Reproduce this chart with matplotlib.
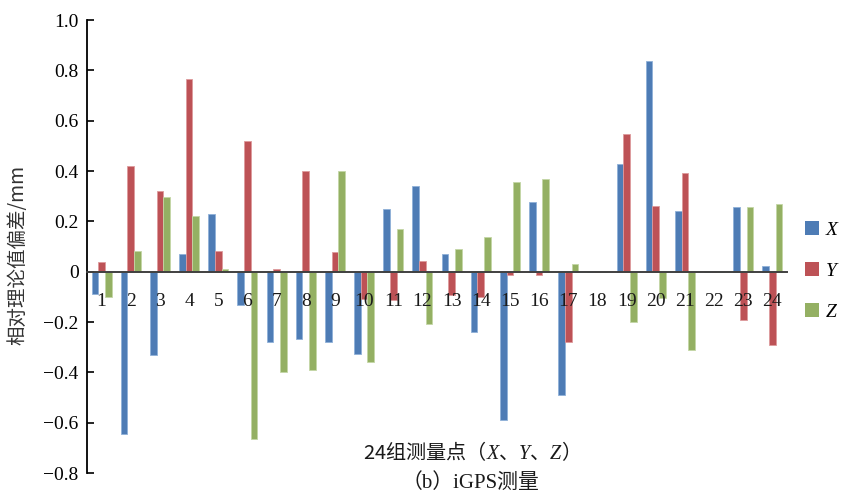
import matplotlib
matplotlib.use("Agg")
import matplotlib.pyplot as plt
import numpy as np
from matplotlib.patches import Patch

categories = [str(i) for i in range(1, 25)]
x_vals = [-0.087, -0.644, -0.332, 0.070, 0.229, -0.134, -0.279, -0.266, -0.279, -0.326,
          0.249, 0.342, 0.070, -0.240, -0.591, 0.275, -0.491, 0.0, 0.428, 0.838,
          0.242, 0.0, 0.255, 0.024]
y_vals = [0.037, 0.421, 0.322, 0.766, 0.083, 0.520, 0.010, 0.401, 0.077, -0.110,
          -0.114, 0.044, -0.094, -0.100, -0.015, -0.015, -0.279, 0.0, 0.547, 0.262,
          0.394, 0.0, -0.193, -0.293]
z_vals = [-0.100, 0.083, 0.295, 0.222, 0.010, -0.663, -0.399, -0.392, 0.401, -0.359,
          0.170, -0.207, 0.090, 0.136, 0.355, 0.368, 0.030, 0.0, -0.200, -0.105,
          -0.313, 0.0, 0.255, 0.269]
series_names = ["X", "Y", "Z"]
colors = ["#4E7CB5", "#BD5256", "#94B063"]
edge_colors = ["#8FB0D8", "#DE9A9C", "#C4D6A6"]

plt.rcParams['font.family'] = ['Liberation Serif', 'Noto Sans CJK SC']
plt.rcParams['axes.unicode_minus'] = True
plt.rcParams['mathtext.fontset'] = 'custom'
plt.rcParams['mathtext.rm'] = 'Liberation Serif'
plt.rcParams['mathtext.it'] = 'Liberation Serif:italic'

fig = plt.figure(figsize=(8.45, 4.95), dpi=100)
ax = fig.add_axes([87/845, 1 - 473/495, 700/845, 453/495])
ax.set_axisbelow(False)

idx = np.arange(len(categories))
w = 0.23
for k, vals in enumerate([x_vals, y_vals, z_vals]):
    ax.bar(idx + (k - 1) * w, vals, width=w, color=colors[k],
           edgecolor=edge_colors[k], linewidth=0.6, zorder=2)

ax.set_xlim(-0.5, len(categories) - 0.5)
ax.set_ylim(-0.8, 1.0)
ax.set_yticks(np.arange(-0.8, 1.01, 0.2))
ax.set_yticklabels(["−0.8", "−0.6", "−0.4", "−0.2", "0", "0.2", "0.4", "0.6", "0.8", "1.0"])
ax.tick_params(axis='y', direction='in', length=5, width=1.2, labelsize=14, pad=6, colors='black')

ax.spines['top'].set_visible(False)
ax.spines['right'].set_visible(False)
ax.spines['left'].set_linewidth(1.3)
ax.spines['bottom'].set_position(('data', 0))
ax.spines['bottom'].set_color('#404040')
ax.spines['bottom'].set_linewidth(1.4)
ax.spines['bottom'].set_zorder(3)
ax.set_xticks(idx)
ax.set_xticklabels(categories)
ax.tick_params(axis='x', length=0, labelsize=14, pad=15, colors='#1a1a1a')
ax.xaxis.set_zorder(5)

fig.text(18/845, 1 - 255/495, "相对理论值偏差/mm", rotation=90, ha='center', va='center',
         fontsize=14, family=['Noto Sans CJK SC'], color='#333333')

fig.text(466/845, 1 - 452/495,
         "24组测量点（$\\it{X}$、$\\it{Y}$、$\\it{Z}$）", ha='center', va='center',
         fontsize=14.5, family=['Noto Sans CJK SC', 'Liberation Serif'], color='#1a1a1a')
fig.text(470/845, 1 - 483/495, "（b）iGPS测量", ha='center', va='center',
         fontsize=15, family=['Liberation Serif', 'Noto Sans CJK SC'], color='#1a1a1a')

handles = [Patch(facecolor=colors[k], edgecolor='none') for k in range(3)]
leg = fig.legend(handles, series_names, loc='center left', bbox_to_anchor=(805/845, 1 - 271/495),
                 frameon=False, borderpad=0, borderaxespad=0,
                 handlelength=0.72, handleheight=0.72, handletextpad=0.35,
                 labelspacing=1.2, prop={'family': 'Liberation Serif', 'style': 'italic', 'size': 14})

fig.savefig("out.png", dpi=100)
